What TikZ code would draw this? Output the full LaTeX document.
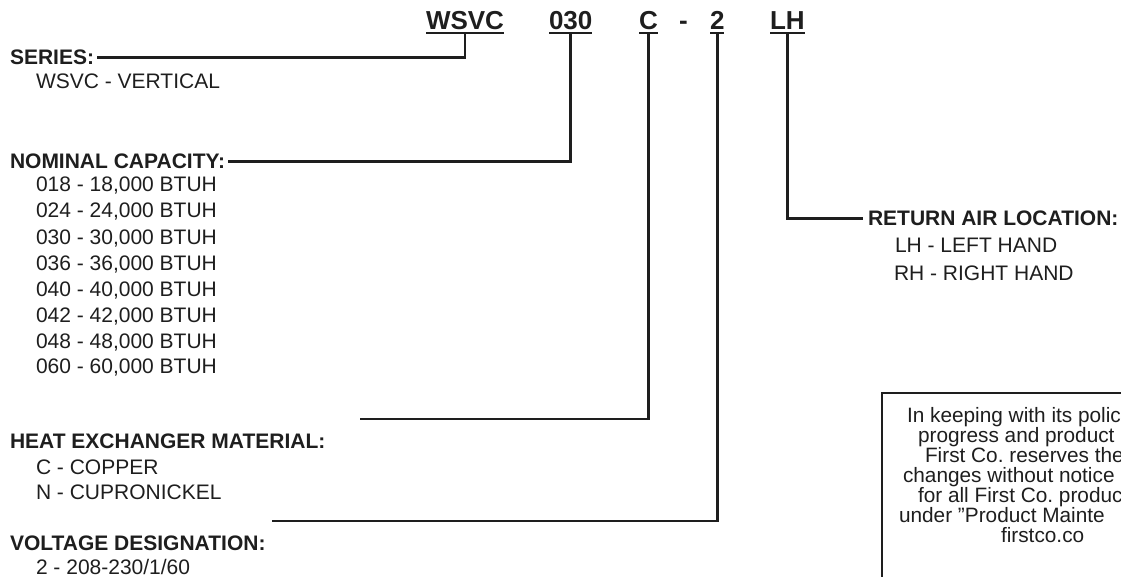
\documentclass[tikz,border=0pt]{standalone}
\usepackage{fontspec}
\setmainfont{Liberation Sans}
\definecolor{ink}{RGB}{30,30,30}
\begin{document}
\frenchspacing
\begin{tikzpicture}[x=1pt,y=-1pt,
  every node/.style={inner sep=0pt, outer sep=0pt, anchor=base west, text=ink},
  code/.style={font=\fontsize{26}{26}\selectfont\bfseries},
  head/.style={font=\fontsize{21}{21}\selectfont\bfseries},
  item/.style={font=\fontsize{21}{21}\selectfont},
  note/.style={font=\fontsize{20.8}{20.8}\selectfont},
  conn/.style={draw=ink, line width=2.8pt},
  uline/.style={draw=ink, line width=2pt},
  boxline/.style={draw=ink, line width=1.4pt},
]
\useasboundingbox (0,0) rectangle (1121,577);
\clip (0,0) rectangle (1121,577);

% model code
\node[code] (w1) at (426,30) {WSVC};
\node[code] (w2) at (549,30) {030};
\node[code] (w3) at (639,30) {C};
\node[code] (wd) at (679,30) {-};
\node[code] (w4) at (710,30) {2};
\node[code] (w5) at (770,30) {LH};
\foreach \n in {w1,w2,w3,w4,w5}{
  \draw[uline] ([yshift=-3.5pt]\n.base west) -- ([yshift=-3.5pt]\n.base east);
  \coordinate (u\n) at ([yshift=-3.5pt]\n.base);
}

% series
\node[head] (ser) at (10,65) {SERIES:};
\node[item] (ser1) at (36,89) {WSVC - VERTICAL};

% nominal capacity
\node[head] (nom) at (10,169) {NOMINAL CAPACITY:};
\node[item] (n1) at (36,192) {018 - 18,000 BTUH};
\node[item] (n2) at (36,218) {024 - 24,000 BTUH};
\node[item] (n3) at (36,244) {030 - 30,000 BTUH};
\node[item] (n4) at (36,270) {036 - 36,000 BTUH};
\node[item] (n5) at (36,296) {040 - 40,000 BTUH};
\node[item] (n6) at (36,322) {042 - 42,000 BTUH};
\node[item] (n7) at (36,348) {048 - 48,000 BTUH};
\node[item] (n8) at (36,373) {060 - 60,000 BTUH};

% heat exchanger
\node[head] (hx) at (10,448) {HEAT EXCHANGER MATERIAL:};
\node[item] (hx1) at (36,474) {C - COPPER};
\node[item] (hx2) at (36,499) {N - CUPRONICKEL};

% voltage
\node[head] (vd) at (10,550) {VOLTAGE DESIGNATION:};
\node[item] (vd1) at (36,574) {2 - 208-230/1/60};

% return air
\node[head] (ret) at (868,226) {RETURN AIR LOCATION:};
\node[item] (ret1) at (895,253) {LH - LEFT HAND};
\node[item] (ret2) at (894,280) {RH - RIGHT HAND};

% connectors
\coordinate (cL) at (360,419);
\coordinate (vL) at (272,521);
\draw[conn] ([xshift=3pt]ser.east) -| (uw1);
\draw[conn] ([xshift=3pt]nom.east) -| (uw2);
\draw[conn] (cL) -| (uw3);
\draw[conn] (vL) -| (uw4);
\draw[conn] (uw5) |- ([xshift=-5pt]ret.west);

% note box
\draw[boxline] (882,393) rectangle (1160,620);
\node[note] (b1) at (907,422) {In keeping with its polic};
\node[note] (b2) at (918,442) {progress and product};
\node[note] (b3) at (925,462) {First Co. reserves the};
\node[note] (b4) at (903,482) {changes without notice};
\node[note] (b5) at (918,502) {for all First Co. produc};
\node[note] (b6) at (899,522) {under \symbol{34}Product Mainte};
\node[note] (b7) at (1001,542) {firstco.co};
\end{tikzpicture}
\end{document}
